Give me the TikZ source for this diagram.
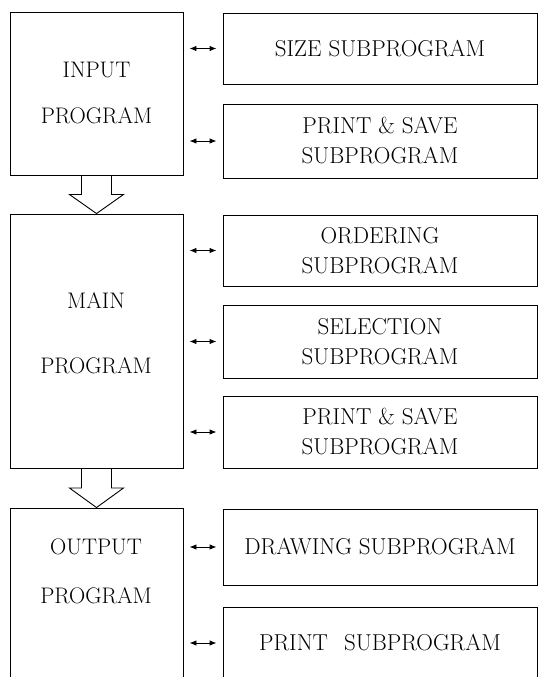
\documentclass[tikz,border=0pt]{standalone}
\usetikzlibrary{arrows.meta,calc}

\begin{document}
\begin{tikzpicture}[
    x=1pt, y=-1pt,
    prog/.style={draw, line width=0.9pt, minimum width=173pt, inner sep=0pt},
    progtext/.style={align=center, font=\fontsize{22.5}{27}\selectfont},
    sub/.style={draw, line width=0.9pt, minimum width=314pt, inner sep=0pt, align=center, font=\fontsize{23}{27}\selectfont},
    link/.style={{Latex[length=7pt,width=5.5pt]}-{Latex[length=7pt,width=5.5pt]}, line width=0.9pt, shorten <=6pt, shorten >=6pt},
    hollow/.style={draw, line width=0.9pt}
]
\clip (0,0) rectangle (538,677);

% program blocks
\node[prog, minimum height=163pt] (input) at (96.5,93.5) {};
\node[prog, minimum height=254pt] (main) at (96.5,341) {};
\node[prog, minimum height=200pt] (output) at (96.5,608) {};
\node[progtext] (inputtxt) at (96.5,93) {INPUT\\[19pt]PROGRAM};
\node[progtext] (maintxt) at (96,333.5) {MAIN\\[38pt]PROGRAM};
\node[progtext] (outputtxt) at (96,571.5) {OUTPUT\\[22pt]PROGRAM};

% subprograms
\node[sub, minimum height=71pt] (size) at (380,48.5) {SIZE SUBPROGRAM};
\node[sub, minimum height=74pt] (saveA) at (380,141) {PRINT \& SAVE\\[3pt]SUBPROGRAM};
\node[sub, minimum height=71pt] (order) at (380,250.5) {ORDERING\\[3pt]SUBPROGRAM};
\node[sub, minimum height=73pt] (select) at (380,341.5) {SELECTION\\[3pt]SUBPROGRAM};
\node[sub, minimum height=72pt] (saveB) at (380,432) {PRINT \& SAVE\\[3pt]SUBPROGRAM};
\node[sub, minimum height=76pt] (drawing) at (380,547) {DRAWING SUBPROGRAM};
\node[sub, minimum height=72pt] (print) at (380,643) {PRINT\hspace{0.4em} SUBPROGRAM};

% calls between blocks and subprograms
\foreach \s in {size, saveA}
  \draw[link] (input.east |- \s.west) -- (\s.west);
\foreach \s in {order, select, saveB}
  \draw[link] (main.east |- \s.west) -- (\s.west);
\foreach \s in {drawing, print}
  \draw[link] (output.east |- \s.west) -- (\s.west);

% hollow arrows down the chain
\foreach \a/\b in {input/main, main/output}
  \draw[hollow] ([xshift=-15pt]\a.south) |- ($(\a.south)!0.5!(\b.north)+(-27,0)$)
    -- (\b.north) -- ($(\a.south)!0.5!(\b.north)+(27,0)$) -| ([xshift=15pt]\a.south);
\end{tikzpicture}
\end{document}
